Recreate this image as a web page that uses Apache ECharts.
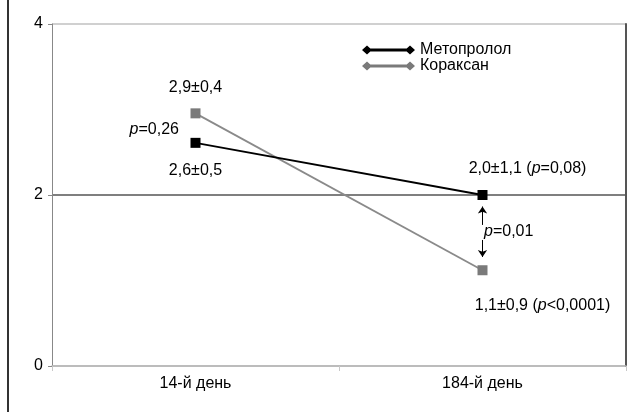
<!DOCTYPE html>
<html>
<head>
<meta charset="utf-8">
<script src="https://cdn.jsdelivr.net/npm/echarts@6/dist/echarts.min.js"></script>
<style>
html,body{margin:0;padding:0;background:#fff;}
#wrap{position:relative;width:628px;height:412px;}
#chart{width:628px;height:412px;}
#frame{position:absolute;left:7px;top:0;width:2px;height:412px;background:#333;}
</style>
</head>
<body>
<div id="wrap"><div id="chart"></div><div id="frame"></div></div>
<script>
const categories = ['14-й день', '184-й день'];
const seriesNames = ['Метопролол', 'Кораксан'];
const metoprolol = [2.61, 2.0];
const koraksan = [2.955, 1.12];
const metoLabels = ['2,6±0,5', '2,0±1,1 ({i|p}=0,08)'];
const koraLabels = ['2,9±0,4', '1,1±0,9 ({i|p}<0,0001)'];
const yMin = 0, yMax = 4, yStep = 2;
// p-value annotations: [category, value, text]
const pNotes = [[categories[0], 2.77, '{i|p}=0,26'], [categories[1], 1.57, '{i|p}=0,01']];
// comparison arrows: [category, from, to]
const arrows = [[categories[1], 1.65, 1.865], [categories[1], 1.474, 1.275]];

const FONT = "'Liberation Sans', Arial, sans-serif";
const rich = { i: { fontStyle: 'italic', fontSize: 16, fontFamily: FONT, color: '#000' } };
const legendIcon = 'path://M0,4.5L5,0L10,4.5L5,9Z M5,3L48,3L48,6L5,6Z M43,4.5L48,0L53,4.5L48,9Z';

const metoLabelCfg = [
  { position: 'bottom', distance: 15, offset: [0, 0] },
  { position: 'top', distance: 13, offset: [45, 0] }
];
const koraLabelCfg = [
  { position: 'top', distance: 13, offset: [0, 0] },
  { position: 'bottom', distance: 22, offset: [60, 0] }
];

function buildData(vals, labels, cfg) {
  return vals.map((v, i) => ({
    value: v,
    label: Object.assign({ show: true, formatter: labels[i], color: '#000', fontSize: 16, fontFamily: FONT, rich: rich }, cfg[i])
  }));
}

const chart = echarts.init(document.getElementById('chart'), null, { renderer: 'canvas' });
chart.setOption({
  animation: false,
  backgroundColor: '#fff',
  textStyle: { fontFamily: FONT },
  grid: { left: 52, right: 2, top: 24, bottom: 46 },
  legend: {
    orient: 'vertical',
    left: 357,
    top: 37,
    itemWidth: 53,
    itemHeight: 10,
    itemGap: 0,
    data: seriesNames.map(n => ({ name: n, icon: legendIcon })),
    textStyle: { fontSize: 16, fontFamily: FONT, color: '#000', lineHeight: 16 }
  },
  xAxis: {
    type: 'category',
    data: categories,
    boundaryGap: true,
    axisLine: { lineStyle: { color: '#b8b8b8', width: 1.5 } },
    axisTick: { show: true, length: 5, lineStyle: { color: '#c8c8c8' } },
    axisLabel: { fontSize: 16, color: '#000', margin: 10, fontFamily: FONT },
    splitLine: { show: false }
  },
  yAxis: [{
    type: 'value',
    min: yMin, max: yMax, interval: yStep,
    axisLine: { show: true, lineStyle: { color: '#888', width: 1 } },
    axisTick: { show: true, length: 4, lineStyle: { color: '#888' } },
    axisLabel: { fontSize: 16, color: '#000', margin: 9, fontFamily: FONT },
    splitLine: { show: true, lineStyle: { color: ['#b8b8b8', '#555', '#c0c0c0'], width: 1.5 } }
  }, {
    type: 'value',
    position: 'right',
    min: yMin, max: yMax, interval: yStep,
    axisLine: { show: true, lineStyle: { color: '#555', width: 2 } },
    axisTick: { show: false },
    axisLabel: { show: false },
    splitLine: { show: false }
  }],
  series: [{
    name: seriesNames[0],
    type: 'line',
    data: buildData(metoprolol, metoLabels, metoLabelCfg),
    symbol: 'rect',
    symbolSize: 10,
    color: '#000',
    lineStyle: { color: '#000', width: 1.8 },
    itemStyle: { color: '#000' },
    z: 3,
    markLine: {
      silent: true,
      symbol: ['none', 'arrow'],
      symbolSize: 7,
      label: { show: false },
      emphasis: { disabled: true },
      lineStyle: { color: '#000', width: 1, type: 'solid' },
      data: arrows.map(a => [{ coord: [a[0], a[1]] }, { coord: [a[0], a[2]] }])
    },
    markPoint: {
      silent: true,
      symbol: 'circle',
      symbolSize: 1,
      itemStyle: { color: 'rgba(0,0,0,0)' },
      data: pNotes.map((p, i) => ({
        coord: [p[0], p[1]],
        label: {
          show: true, formatter: p[2], fontSize: 16, fontFamily: FONT, color: '#000', rich: rich,
          position: i === 0 ? 'left' : 'right', distance: i === 0 ? 16 : 1
        }
      }))
    }
  }, {
    name: seriesNames[1],
    type: 'line',
    data: buildData(koraksan, koraLabels, koraLabelCfg),
    symbol: 'rect',
    symbolSize: 10,
    color: '#808080',
    lineStyle: { color: '#8a8a8a', width: 1.8 },
    itemStyle: { color: '#7a7a7a' },
    z: 2
  }]
});
</script>
</body>
</html>
